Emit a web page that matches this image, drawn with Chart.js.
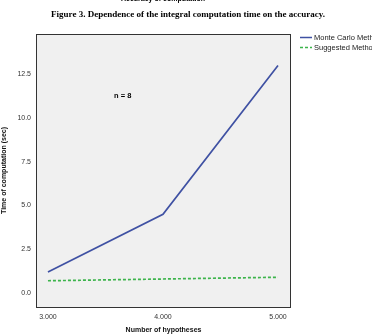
<!DOCTYPE html>
<html>
<head>
<meta charset="utf-8">
<script src="https://cdn.jsdelivr.net/npm/chart.js@4"></script>
<style>
  html, body { margin: 0; padding: 0; background: #fff; }
  #wrap { width: 372px; height: 334px; position: relative; }
</style>
</head>
<body>
<div id="wrap"><canvas id="chart" width="372" height="334"></canvas></div>
<script>
// data
const hypotheses = [3, 4, 5];
const monteCarlo = [1.2, 4.5, 13.0];
const suggested = [0.7, 0.8, 0.9];
const yTicks = [0, 2.5, 5, 7.5, 10, 12.5];
const seriesNames = ['Monte Carlo Method', 'Suggested Method'];

const BLUE = '#3f51a3';
const GREEN = '#3cb44b';

// fond gris, cadre, titre, legende
const decor = {
    id: 'decor',
    beforeDatasetsDraw(chart) {
        const { ctx, chartArea: a } = chart;
        ctx.save();
        ctx.fillStyle = '#f0f0f0';
        ctx.fillRect(a.left, a.top, a.right - a.left, a.bottom - a.top);
        ctx.restore();
    },
    afterDraw(chart) {
        const { ctx, chartArea: a } = chart;
        ctx.save();
        ctx.strokeStyle = '#333';
        ctx.lineWidth = 1;
        ctx.strokeRect(a.left + 0.5, a.top + 0.5, a.right - a.left - 1, a.bottom - a.top);

        ctx.fillStyle = '#000';
        ctx.textAlign = 'center';
        ctx.textBaseline = 'middle';
        ctx.font = 'bold 9px "Liberation Serif"';
        ctx.fillText('Figure 3. Dependence of the integral computation time on the accuracy.', 188, 15);
        ctx.font = 'bold 7px "Liberation Sans"';
        ctx.fillText('Accuracy of computation', 163, -1);

        ctx.font = 'bold 7.5px "Liberation Sans"';
        ctx.textAlign = 'left';
        ctx.fillText('n = 8', 114, 96);

        // legende
        ctx.font = '7.5px "Liberation Sans"';
        ctx.lineWidth = 1.5;
        ctx.strokeStyle = BLUE;
        ctx.beginPath(); ctx.moveTo(300, 37.5); ctx.lineTo(312, 37.5); ctx.stroke();
        ctx.strokeStyle = GREEN;
        ctx.setLineDash([3, 2]);
        ctx.beginPath(); ctx.moveTo(300, 47.5); ctx.lineTo(312, 47.5); ctx.stroke();
        ctx.setLineDash([]);
        ctx.fillStyle = '#222';
        ctx.fillText(seriesNames[0], 314, 37.5);
        ctx.fillText(seriesNames[1], 314, 47.5);
        ctx.restore();
    }
};

new Chart(document.getElementById('chart'), {
    type: 'line',
    data: {
        datasets: [
            {
                label: seriesNames[0],
                data: hypotheses.map((x, i) => ({ x: x, y: monteCarlo[i] })),
                borderColor: BLUE,
                borderWidth: 1.7,
                pointRadius: 0,
                tension: 0
            },
            {
                label: seriesNames[1],
                data: hypotheses.map((x, i) => ({ x: x, y: suggested[i] })),
                borderColor: GREEN,
                borderWidth: 1.7,
                borderDash: [3, 2],
                pointRadius: 0,
                tension: 0
            }
        ]
    },
    options: {
        responsive: false,
        animation: false,
        layout: { padding: { top: 34, right: 81, left: 0, bottom: 0 } },
        plugins: {
            legend: { display: false },
            tooltip: { enabled: false }
        },
        scales: {
            x: {
                type: 'linear',
                min: 2.896,
                max: 5.113,
                afterBuildTicks: s => { s.ticks = hypotheses.map(v => ({ value: v })); },
                afterFit: s => { s.height = 27; },
                grid: { display: false, drawTicks: true, tickLength: 4, tickColor: '#333' },
                border: { display: false },
                ticks: {
                    color: '#333',
                    padding: 2,
                    font: { family: 'Liberation Sans', size: 7 },
                    callback: v => v.toFixed(3)
                },
                title: {
                    display: true,
                    text: 'Number of hypotheses',
                    color: '#111',
                    padding: { top: 1, bottom: 0 },
                    font: { family: 'Liberation Sans', size: 7, weight: 'bold' }
                }
            },
            y: {
                min: -0.8,
                max: 14.8,
                afterBuildTicks: s => { s.ticks = yTicks.map(v => ({ value: v })); },
                afterFit: s => { s.width = 36; },
                grid: { display: false, drawTicks: true, tickLength: 4, tickColor: '#333' },
                border: { display: false },
                ticks: {
                    color: '#333',
                    padding: 1,
                    font: { family: 'Liberation Sans', size: 7 },
                    callback: v => v.toFixed(1)
                },
                title: {
                    display: true,
                    text: 'Time of computation (sec)',
                    color: '#111',
                    padding: { top: 0, bottom: 0 },
                    font: { family: 'Liberation Sans', size: 7, weight: 'bold' }
                }
            }
        }
    },
    plugins: [decor]
});
</script>
</body>
</html>
